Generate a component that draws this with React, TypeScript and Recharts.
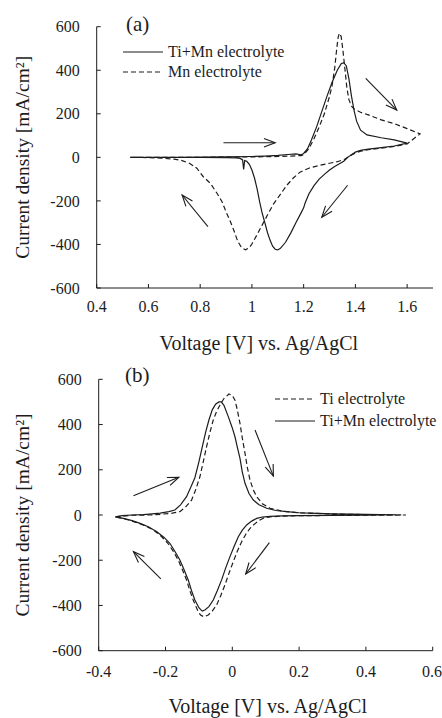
import { LineChart, Line, XAxis, YAxis, ReferenceLine, Legend } from "recharts"

// CV curves, voltage (V vs Ag/AgCl) and current density (mA/cm2), in scan order
type Pt = { v: number; i: number }
const pts = (rows: number[][]): Pt[] => rows.map(([v, i]) => ({ v, i }))

const INK = "#1c1c1c"
const FONT = "'Liberation Serif', 'Times New Roman', serif"

const yTicks = [-600, -400, -200, 0, 200, 400, 600]
const xTicksA = [0.4, 0.6, 0.8, 1, 1.2, 1.4, 1.6]
const xTicksB = [-0.4, -0.2, 0, 0.2, 0.4, 0.6]

// (a) Ti+Mn electrolyte
const tiMnA = pts([
  [0.53, 0], [0.6, 0], [0.7, 0], [0.8, 1], [0.9, 2], [1.0, 4], [1.05, 6], [1.1, 9], [1.14, 13], [1.17, 16],
  [1.19, 12], [1.2, 18], [1.215, 40], [1.23, 80], [1.25, 140], [1.27, 210], [1.29, 280], [1.31, 345],
  [1.33, 400], [1.345, 430], [1.355, 435], [1.365, 420], [1.375, 360], [1.385, 280], [1.395, 215],
  [1.405, 165], [1.42, 125], [1.445, 103], [1.5, 90], [1.55, 80], [1.6, 65],
  [1.55, 52], [1.5, 45], [1.45, 38], [1.42, 32], [1.4, 24], [1.385, 12], [1.37, 0], [1.355, -18],
  [1.34, -28], [1.32, -42], [1.3, -58], [1.28, -78], [1.26, -100], [1.24, -130], [1.22, -168],
  [1.205, -212], [1.2, -232], [1.19, -255], [1.17, -300], [1.15, -348], [1.13, -390], [1.11, -418],
  [1.1, -425], [1.09, -422], [1.08, -408], [1.07, -380], [1.06, -345], [1.05, -300], [1.04, -258],
  [1.03, -205], [1.02, -145], [1.01, -95], [1.0, -58], [0.99, -32], [0.98, -18], [0.972, -15],
  [0.968, -55], [0.964, -12], [0.955, -5], [0.94, -2], [0.9, -1], [0.8, 0], [0.7, 0], [0.6, 0], [0.53, 0],
])

// (a) Mn electrolyte
const mnA = pts([
  [0.53, 0], [0.6, 0], [0.7, 0], [0.8, 0], [0.9, 1], [1.0, 2], [1.1, 4], [1.15, 6], [1.19, 8], [1.2, 12],
  [1.22, 40], [1.24, 85], [1.26, 140], [1.28, 200], [1.29, 240], [1.3, 280], [1.31, 330], [1.32, 410],
  [1.328, 500], [1.333, 550], [1.338, 570], [1.345, 555], [1.352, 490], [1.36, 400], [1.367, 320],
  [1.375, 265], [1.385, 235], [1.395, 222], [1.42, 207], [1.45, 195], [1.5, 172], [1.55, 155],
  [1.6, 132], [1.65, 108],
  [1.6, 62], [1.55, 50], [1.5, 42], [1.45, 35], [1.42, 28], [1.4, 20], [1.38, 8], [1.36, -8],
  [1.33, -20], [1.3, -27], [1.25, -40], [1.22, -50], [1.186, -68], [1.16, -95], [1.135, -128],
  [1.11, -170], [1.083, -215], [1.06, -265], [1.04, -310], [1.02, -355], [1.0, -398], [0.99, -415],
  [0.975, -425], [0.96, -415], [0.945, -385], [0.93, -335], [0.915, -290], [0.9, -250], [0.885, -205],
  [0.865, -165], [0.84, -120], [0.812, -89], [0.787, -50], [0.76, -28], [0.73, -15], [0.7, -8],
  [0.65, -4], [0.6, -1], [0.53, 0],
])

// (b) Ti electrolyte
const tiB = pts([
  [-0.35, -8], [-0.3, -1], [-0.25, 0], [-0.216, 3], [-0.18, 8], [-0.157, 15], [-0.14, 35], [-0.122, 66],
  [-0.11, 110], [-0.097, 169], [-0.087, 235], [-0.077, 302], [-0.067, 365], [-0.057, 420], [-0.047, 458],
  [-0.037, 486], [-0.025, 515], [-0.01, 535], [0.0, 528], [0.008, 508], [0.015, 465], [0.023, 405],
  [0.03, 340], [0.038, 273], [0.045, 210], [0.053, 155], [0.063, 110], [0.073, 81], [0.09, 50],
  [0.113, 30], [0.15, 17], [0.2, 10], [0.3, 4], [0.4, 2], [0.52, 0],
  [0.4, -1], [0.3, -2], [0.2, -3], [0.15, -5], [0.113, -8], [0.095, -13], [0.083, -22], [0.068, -38],
  [0.053, -59], [0.04, -86], [0.028, -118], [0.015, -160], [0.003, -206], [-0.01, -258], [-0.022, -309],
  [-0.035, -358], [-0.047, -398], [-0.06, -425], [-0.072, -442], [-0.085, -450], [-0.095, -442],
  [-0.102, -428], [-0.11, -400], [-0.117, -376], [-0.127, -335], [-0.137, -287], [-0.15, -240],
  [-0.162, -199], [-0.177, -160], [-0.193, -125], [-0.212, -95], [-0.236, -66], [-0.26, -48],
  [-0.286, -34], [-0.31, -22], [-0.336, -13], [-0.35, -8],
])

// (b) Ti+Mn electrolyte
const tiMnB = pts([
  [-0.35, -8], [-0.33, -3], [-0.3, 0], [-0.266, 2], [-0.24, 5], [-0.216, 8], [-0.19, 15], [-0.172, 22],
  [-0.155, 45], [-0.137, 81], [-0.125, 120], [-0.112, 165], [-0.1, 235], [-0.09, 300], [-0.08, 365],
  [-0.07, 420], [-0.06, 465], [-0.05, 490], [-0.04, 500], [-0.033, 500], [-0.025, 485], [-0.012, 435],
  [0.0, 385], [0.008, 346], [0.015, 300], [0.023, 250], [0.03, 190], [0.038, 140], [0.05, 95],
  [0.063, 66], [0.08, 45], [0.103, 30], [0.13, 20], [0.163, 15], [0.2, 10], [0.233, 8], [0.3, 5],
  [0.4, 3], [0.49, 1],
  [0.4, -1], [0.3, -2], [0.2, -3], [0.15, -4], [0.113, -6], [0.09, -9], [0.073, -15], [0.058, -27],
  [0.043, -44], [0.03, -67], [0.018, -96], [0.005, -140], [-0.007, -184], [-0.02, -235], [-0.032, -287],
  [-0.045, -335], [-0.057, -376], [-0.07, -405], [-0.082, -420], [-0.09, -425], [-0.1, -410],
  [-0.112, -376], [-0.122, -335], [-0.132, -287], [-0.145, -240], [-0.157, -199], [-0.172, -160],
  [-0.187, -125], [-0.205, -98], [-0.226, -74], [-0.25, -53], [-0.276, -37], [-0.3, -25],
  [-0.326, -15], [-0.35, -8],
])

// scan direction arrows [v1, i1, v2, i2]
const arrowsA = [
  [0.89, 67, 1.09, 67],
  [1.44, 363, 1.56, 217],
  [1.37, -128, 1.27, -275],
  [0.83, -318, 0.73, -173],
]
const arrowsB = [
  [-0.296, 85, -0.16, 167],
  [0.068, 376, 0.123, 172],
  [0.111, -122, 0.04, -261],
  [-0.214, -282, -0.296, -162],
]

type Series = { name: string; data: Pt[]; dash?: string }

const ArrowShape = (p: any) => {
  const { x1, y1, x2, y2 } = p
  const a = Math.atan2(y2 - y1, x2 - x1)
  const L = 12
  const w = 0.36
  const h1 = `${x2 - L * Math.cos(a - w)},${y2 - L * Math.sin(a - w)}`
  const h2 = `${x2 - L * Math.cos(a + w)},${y2 - L * Math.sin(a + w)}`
  return (
    <g>
      <line x1={x1} y1={y1} x2={x2} y2={y2} stroke={INK} strokeWidth={1.1} />
      <polyline points={`${h1} ${x2},${y2} ${h2}`} fill="none" stroke={INK} strokeWidth={1.1} />
    </g>
  )
}

const legendBox = (rows: Series[], gap: number) => () => (
  <div style={{ fontFamily: FONT, fontSize: 16, color: INK, lineHeight: 1 }}>
    {rows.map((r) => (
      <div key={r.name} style={{ display: "flex", alignItems: "center", height: gap }}>
        <svg width={40} height={4} style={{ display: "block" }}>
          <line x1={0} y1={2} x2={40} y2={2} stroke={INK} strokeWidth={1.2} strokeDasharray={r.dash} />
        </svg>
        <span style={{ marginLeft: 5, whiteSpace: "nowrap" }}>{r.name}</span>
      </div>
    ))}
  </div>
)

type PanelProps = {
  top: number
  height: number
  margin: { top: number; right: number; left: number; bottom: number }
  yWidth: number
  xHeight: number
  xDomain: [number, number]
  xTicks: number[]
  xTickMargin: number
  xTitleOffset: number
  xTitleDx: number
  series: Series[]
  arrows: number[][]
  legendPos: { left: number; top: number; gap: number }
  tag: string
  tagPos: { x: number; y: number }
}

function Panel(p: PanelProps) {
  const tickStyle = { fontFamily: FONT, fontSize: 16, fill: INK }
  return (
    <div style={{ position: "absolute", left: 0, top: p.top, width: 442, height: p.height }}>
      <LineChart width={442} height={p.height} margin={p.margin}>
        <XAxis
          type="number"
          dataKey="v"
          domain={p.xDomain}
          ticks={p.xTicks}
          allowDataOverflow
          height={p.xHeight}
          tickSize={-4}
          tickMargin={p.xTickMargin}
          tick={tickStyle}
          stroke={INK}
          tickLine={{ stroke: INK }}
          axisLine={{ stroke: INK }}
          label={{
            value: "Voltage [V] vs. Ag/AgCl",
            position: "insideBottom",
            offset: p.xTitleOffset,
            dx: p.xTitleDx,
            style: { fontFamily: FONT, fontSize: 20, fill: INK },
          }}
        />
        <YAxis
          type="number"
          domain={[-600, 600]}
          ticks={yTicks}
          allowDataOverflow
          width={p.yWidth}
          tickSize={-4}
          tickMargin={21}
          tick={tickStyle}
          stroke={INK}
          tickLine={{ stroke: INK }}
          axisLine={{ stroke: INK }}
          label={{
            value: "Current density [mA/cm²]",
            angle: -90,
            position: "center",
            dx: 22 - p.yWidth / 2,
            style: { fontFamily: FONT, fontSize: 19.5, fill: INK },
          }}
        />
        {p.series.map((s) => (
          <Line
            key={s.name}
            name={s.name}
            data={s.data}
            dataKey="i"
            type="linear"
            stroke={INK}
            strokeWidth={1.2}
            strokeDasharray={s.dash}
            dot={false}
            activeDot={false}
            isAnimationActive={false}
          />
        ))}
        {p.arrows.map(([a, b, c, d], k) => (
          <ReferenceLine
            key={k}
            segment={[
              { x: a, y: b },
              { x: c, y: d },
            ]}
            shape={ArrowShape}
          />
        ))}
        <Legend
          layout="vertical"
          align="center"
          verticalAlign="middle"
          wrapperStyle={{ left: p.legendPos.left, top: p.legendPos.top, width: 200, height: 2 * p.legendPos.gap }}
          content={legendBox(p.series, p.legendPos.gap)}
        />
      </LineChart>
      <svg width={442} height={p.height} style={{ position: "absolute", left: 0, top: 0, pointerEvents: "none" }}>
        <text x={p.tagPos.x} y={p.tagPos.y} fontFamily={FONT} fontSize={21} fill={INK}>
          {p.tag}
        </text>
      </svg>
    </div>
  )
}

export default function App() {
  return (
    <div style={{ position: "absolute", left: 0, top: 0, width: 442, height: 718, background: "#fff" }}>
      <Panel
        top={0}
        height={360}
        margin={{ top: 26.7, right: 9, left: 0, bottom: 0 }}
        yWidth={96.7}
        xHeight={72}
        xDomain={[0.4, 1.7]}
        xTicks={xTicksA}
        xTickMargin={17}
        xTitleOffset={10}
        xTitleDx={-6}
        series={[
          { name: "Ti+Mn electrolyte", data: tiMnA },
          { name: "Mn electrolyte", data: mnA, dash: "5 3" },
        ]}
        arrows={arrowsA}
        legendPos={{ left: 123, top: 42, gap: 20 }}
        tag="(a)"
        tagPos={{ x: 126, y: 31 }}
      />
      <Panel
        top={360}
        height={358}
        margin={{ top: 19.3, right: 9.3, left: 0, bottom: 0 }}
        yWidth={98.7}
        xHeight={67.3}
        xDomain={[-0.4, 0.6]}
        xTicks={xTicksB}
        xTickMargin={19}
        xTitleOffset={5}
        xTitleDx={2}
        series={[
          { name: "Ti electrolyte", data: tiB, dash: "5 3" },
          { name: "Ti+Mn electrolyte", data: tiMnB },
        ]}
        arrows={arrowsB}
        legendPos={{ left: 275, top: 28, gap: 22 }}
        tag="(b)"
        tagPos={{ x: 125, y: 22 }}
      />
    </div>
  )
}
